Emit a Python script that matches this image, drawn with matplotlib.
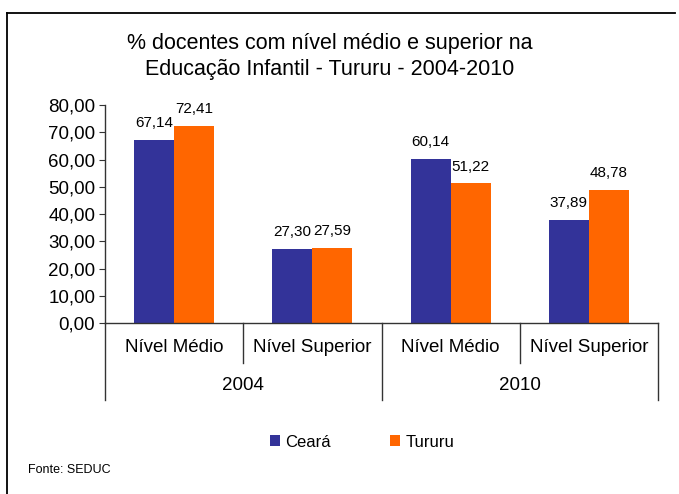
import matplotlib
matplotlib.use('Agg')
import matplotlib.pyplot as plt
from matplotlib.lines import Line2D
import numpy as np

plt.rcParams['font.family'] = ['Liberation Sans', 'DejaVu Sans']

# Data ########################################################################
years = ['2004', '2010']
levels = ['Nível Médio', 'Nível Superior', 'Nível Médio', 'Nível Superior']
ceara = [67.14, 27.30, 60.14, 37.89]
tururu = [72.41, 27.59, 51.22, 48.78]
series_names = ['Ceará', 'Tururu']
COLORS = ['#333399', '#FF6600']

W, H = 679, 494
fig = plt.figure(figsize=(W / 100, H / 100), dpi=100)
fig.patch.set_facecolor('white')

# outer frame (only top and left visible in the reference)
fig.add_artist(Line2D([7 / W, 675 / W], [1 - 13 / H, 1 - 13 / H],
                      transform=fig.transFigure, color='black', lw=1.3))
fig.add_artist(Line2D([7 / W, 7 / W], [1 - 13 / H, 0],
                      transform=fig.transFigure, color='black', lw=1.3))

# axes placement ###############################################################
(x0, x1, y0, y1) = (105, 658, 323, 105)
ax = fig.add_axes([x0 / W, 1 - y0 / H, (x1 - x0) / W, (y0 - y1) / H])

x = np.arange(len(levels))
bw = 0.29
b1 = ax.bar(x - bw / 2, ceara, bw, color=COLORS[0], label=series_names[0])
b2 = ax.bar(x + bw / 2, tururu, bw, color=COLORS[1], label=series_names[1])

def fmt(v):
    return ('%.2f' % v).replace('.', ',')

for bars, vals in ((b1, ceara), (b2, tururu)):
    for rect, v in zip(bars, vals):
        ax.annotate(fmt(v), (rect.get_x() + rect.get_width() / 2, v),
                    xytext=(0, 7), textcoords='offset points',
                    ha='center', va='bottom', fontsize=11)

ax.set_xlim(-0.5, len(levels) - 0.5)
ax.set_ylim(0, 80)
ax.set_yticks(np.arange(0, 81, 10))
ax.set_yticklabels([fmt(t) for t in np.arange(0, 81, 10)], fontsize=13.5)
ax.set_xticks([])
for s in ('top', 'right'):
    ax.spines[s].set_visible(False)
for s in ('left', 'bottom'):
    ax.spines[s].set_color('#333333')
    ax.spines[s].set_linewidth(1.0)
ax.tick_params(axis='y', length=4, color='#333333', pad=3)

# multi-level category axis ###################################################
tr = ax.get_xaxis_transform()
short_len = 40 / (y0 - y1)
long_len = 77 / (y0 - y1)
for i in range(len(levels) + 1):
    xp = i - 0.5
    ln = long_len if i % 2 == 0 else short_len
    ax.plot([xp, xp], [0, -ln], transform=tr, color='#333333',
            lw=1.0, clip_on=False)
for i, lab in enumerate(levels):
    ax.text(i, -25 / (y0 - y1), lab, transform=tr, ha='center',
            va='center', fontsize=13.5)
for j, yr in enumerate(years):
    ax.text(2 * j + 0.5, -62 / (y0 - y1), yr, transform=tr, ha='center',
            va='center', fontsize=13.5)

# title ########################################################################
fig.text(330 / W, 1 - 44 / H, '% docentes com nível médio e superior na',
         ha='center', va='center', fontsize=15.5)
fig.text(330 / W, 1 - 70 / H, 'Educação Infantil - Tururu - 2004-2010',
         ha='center', va='center', fontsize=15.5)

# legend #######################################################################
leg = fig.legend(handles=[b1, b2], labels=series_names,
                 loc='center', bbox_to_anchor=(362 / W, 1 - 442 / H),
                 ncol=2, frameon=False, fontsize=12, handlelength=0.6,
                 handleheight=0.6, columnspacing=3.6, handletextpad=0.3)

fig.text(28 / W, 1 - 470 / H, 'Fonte: SEDUC', ha='left', va='center',
         fontsize=9)

plt.savefig('out.png', dpi=100)
plt.close()
